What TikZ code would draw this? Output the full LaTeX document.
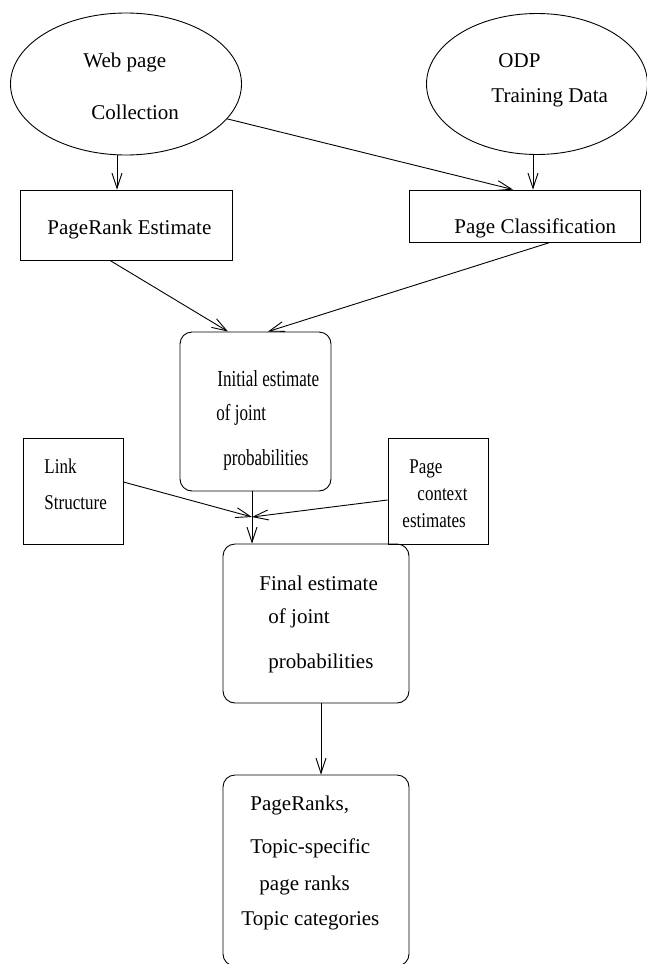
\documentclass[tikz,border=0pt]{standalone}
\usepackage{fontspec}
\setmainfont{Liberation Serif}
\usetikzlibrary{shapes.geometric,arrows.meta}
\newcommand{\squeeze}[2][0.81]{\scalebox{#1}[1]{#2}}

\begin{document}
\begin{tikzpicture}[x=1pt, y=-1pt, line width=0.9pt,
	blob/.style={draw, ellipse, inner sep=0pt},
	box/.style={draw, rectangle, inner sep=0pt},
	rbox/.style={draw, rectangle, rounded corners=12pt, inner sep=0pt},
	txt/.style={anchor=base west, inner sep=0pt, font=\fontsize{21}{25}\selectfont},
	tall/.style={txt, font=\fontsize{23}{27}\selectfont},
	>={Straight Barb[length=15pt, width=10pt]}]
	\useasboundingbox (0,0) rectangle (647,964);

	% sources
	\node[blob, minimum width=231pt, minimum height=142pt] (web) at (126,84) {};
	\node[blob, minimum width=221pt, minimum height=141pt] (odp) at (537,84) {};
	\node[txt] (webA) at (83,67) {Web page};
	\node[txt] (webB) at (91,119) {Collection};
	\node[txt] (odpA) at (498,67) {ODP};
	\node[txt] (odpB) at (491,102) {Training Data};

	% first stage
	\node[box, minimum width=212pt, minimum height=70pt] (prank) at (126,225) {};
	\node[box, minimum width=231pt, minimum height=52pt] (pclass) at (524.5,216) {};
	\node[txt] (prankA) at (47,234) {PageRank Estimate};
	\node[txt] (pclassA) at (454,233) {Page Classification};

	% joint probabilities
	\node[rbox, minimum width=151pt, minimum height=159pt] (init) at (255.5,411.5) {};
	\node[tall] (initA) at (217,386) {\squeeze[0.74]{Initial estimate}};
	\node[tall] (initB) at (216,420) {\squeeze[0.74]{of joint}};
	\node[tall] (initC) at (223,465) {\squeeze[0.74]{probabilities}};

	\node[box, minimum width=100pt, minimum height=106pt] (link) at (73,491) {};
	\node[txt] (linkA) at (44,473) {\squeeze{Link}};
	\node[txt] (linkB) at (44,509) {\squeeze{Structure}};

	\node[box, minimum width=100pt, minimum height=106pt] (ctx) at (438,491) {};
	\node[txt] (ctxA) at (409,473) {\squeeze{Page}};
	\node[txt] (ctxB) at (417,500) {\squeeze{context}};
	\node[txt] (ctxC) at (402,527) {\squeeze{estimates}};

	\node[rbox, minimum width=186pt, minimum height=159pt] (final) at (316,623.5) {};
	\node[txt] (finalA) at (259,590) {Final estimate};
	\node[txt] (finalB) at (268,623) {of joint};
	\node[txt] (finalC) at (268,668) {probabilities};

	% results
	\node[rbox, minimum width=186pt, minimum height=191pt] (res) at (316,870.5) {};
	\node[txt] (resA) at (250,810) {PageRanks,};
	\node[txt] (resB) at (250,853) {Topic-specific};
	\node[txt] (resC) at (259,890) {page ranks};
	\node[txt] (resD) at (241,925) {Topic categories};

	\coordinate (join) at (252,517);

	% connectors
	\draw[->] ([xshift=-9pt]web.south) -- ([xshift=-9pt]prank.north);
	\draw[->] (web.-19) -- ([xshift=-11.5pt]pclass.north);
	\draw[->] ([xshift=-4pt]odp.south) -- ([xshift=8.5pt]pclass.north);
	\draw[->] ([xshift=-16pt]prank.south) -- ([xshift=-27.5pt]init.north);
	\draw[->] ([xshift=25.5pt]pclass.south) -- ([xshift=12.5pt]init.north);
	\draw[->] ([xshift=-3.5pt]init.south) -- ([xshift=-64pt]final.north);
	\draw[->] ([yshift=9pt]link.east) -- (join);
	\draw[->] ([yshift=-9pt]ctx.west) -- (join);
	\draw[->] ([xshift=5pt]final.south) -- ([xshift=5pt]res.north);
\end{tikzpicture}
\end{document}
